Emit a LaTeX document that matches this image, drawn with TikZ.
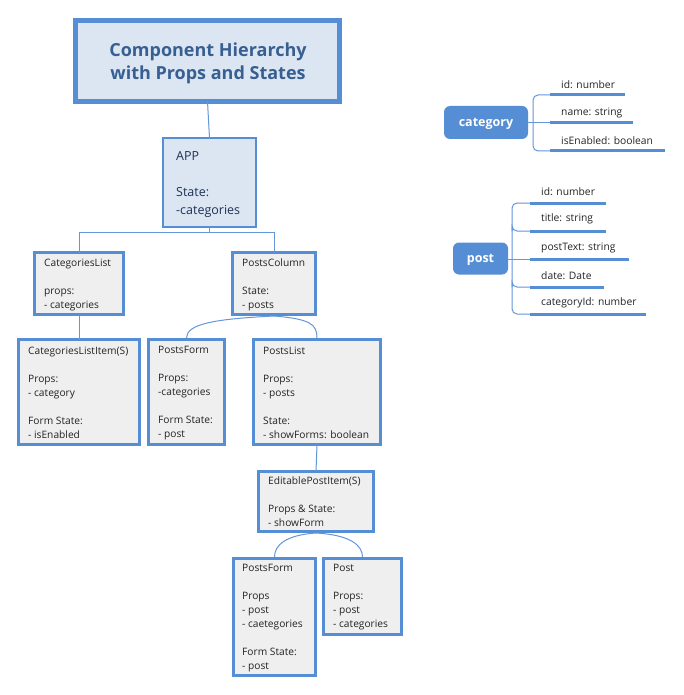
\documentclass[tikz,border=0pt]{standalone}
\usepackage{fontspec}
\setmainfont{Open Sans}
\usetikzlibrary{calc}
\definecolor{bord}{RGB}{85,142,213}
\definecolor{lblue}{RGB}{220,230,242}
\definecolor{lgray}{RGB}{239,239,239}
\definecolor{ttl}{RGB}{55,95,145}
\definecolor{navy}{RGB}{30,50,85}
\definecolor{txtc}{RGB}{35,35,35}
\definecolor{conn}{RGB}{100,150,218}
\begin{document}
\begin{tikzpicture}[x=1pt,y=-1pt,
  gbox/.style={draw=bord,fill=lgray,line width=3pt,anchor=north west,inner sep=0pt,outer sep=0pt},
  gtxt/.style={anchor=north west,inner sep=0pt,align=left,text=txtc,font=\fontsize{10.2}{14}\selectfont},
  mtxt/.style={anchor=west,inner sep=0pt,text=txtc,font=\fontsize{10.3}{12}\selectfont},
  pill/.style={fill=bord,rounded corners=6pt,text=white,font=\bfseries\fontsize{12.5}{15}\selectfont,inner sep=0pt,text depth=0pt},
  conn/.style={draw=conn,line width=1pt},
  uline/.style={draw=bord,line width=3pt}]
\useasboundingbox[fill=white] (0,0) rectangle (683,695);

% ---------- boxes ----------
\node[draw=bord,fill=lblue,line width=5pt,anchor=north west,inner sep=0pt,outer sep=0pt,minimum width=264pt,minimum height=81pt] (title) at (75.5,20.5) {};
\node[draw=bord,fill=lblue,line width=2pt,anchor=north west,inner sep=0pt,outer sep=0pt,minimum width=93pt,minimum height=89pt] (app) at (163,138) {};
\node[gbox,minimum width=89pt,minimum height=62pt] (cl) at (34.5,252.5) {};
\node[gbox,minimum width=83pt,minimum height=62pt] (pc) at (232.5,252.5) {};
\node[gbox,minimum width=121pt,minimum height=105pt] (cli) at (18.5,339.5) {};
\node[gbox,minimum width=76pt,minimum height=105pt] (pf) at (148.5,339.5) {};
\node[gbox,minimum width=127pt,minimum height=105pt] (pl) at (253.5,339.5) {};
\node[gbox,minimum width=115pt,minimum height=60pt] (epi) at (258.5,471.5) {};
\node[gbox,minimum width=82pt,minimum height=117pt] (pf2) at (233.5,558.5) {};
\node[gbox,minimum width=78pt,minimum height=76pt] (post) at (323.5,558.5) {};

% ---------- connectors ----------
\draw[conn] (title.south) -- (app.north);
\draw[conn] (app.south) -- ++(0,5) coordinate (split) -| (cl.north);
\draw[conn] (split) -| (pc.north);
\draw[conn] (cl.south) -- (cli.north);
\draw[conn] ($(pc.south)+(0,1.5)$) .. controls +(-60,3) and +(0,-14) .. ($(pf.north)+(0,-1.5)$);
\draw[conn] ($(pc.south)+(0,1.5)$) .. controls +(36,3) and +(0,-14) .. ($(pl.north)+(0,-1.5)$);
\draw[conn] (pl.south) -- (epi.north);
\draw[conn] ($(epi.south)+(0,1.5)$) .. controls +(-30,2) and +(0,-12) .. ($(pf2.north)+(0,-1.5)$);
\draw[conn] ($(epi.south)+(0,1.5)$) .. controls +(34,2) and +(0,-12) .. ($(post.north)+(0,-1.5)$);

% ---------- texts ----------
\node[text=ttl,font=\bfseries\fontsize{18}{23}\selectfont,align=center,inner sep=0pt] (ttltext) at (208,63.5) {Component Hierarchy\\with Props and States};
\node[anchor=north west,inner sep=0pt,align=left,text=navy,font=\fontsize{12.5}{18}\selectfont] (apptext) at (176,151) {APP\\[18pt]State:\\-categories};
\node[gtxt] (cltext) at (44,258.5) {CategoriesList\\[14pt]props:\\- categories};
\node[gtxt] (pctext) at (242,258.5) {PostsColumn\\[14pt]State:\\- posts};
\node[gtxt] (clitext) at (28,346.5) {CategoriesListItem(S)\\[14pt]Props:\\- category\\[14pt]Form State:\\- isEnabled};
\node[gtxt] (pftext) at (158,346.5) {PostsForm\\[14pt]Props:\\-categories\\[14pt]Form State:\\- post};
\node[gtxt] (pltext) at (263,346.5) {PostsList\\[14pt]Props:\\- posts\\[14pt]State:\\- showForms: boolean};
\node[gtxt] (epitext) at (268,477) {EditablePostItem(S)\\[14pt]Props \& State:\\- showForm};
\node[gtxt] (pf2text) at (242,564) {PostsForm\\[14pt]Props\\- post\\- caetegories\\[14pt]Form State:\\- post};
\node[gtxt] (posttext) at (333,564) {Post\\[14pt]Props:\\- post\\- categories};

% ---------- mind map: category ----------
\node[pill,minimum width=84pt,minimum height=33pt] (cat) at (486,122.5) {category};
\coordinate (ca1) at (550,95);
\coordinate (ca2) at (550,123);
\coordinate (ca3) at (550,151);
\draw[conn,rounded corners=5pt] (ca1) -| (533,123) |- (ca3);
\draw[conn] (cat.east |- ca2) -- (ca2);
\draw[uline] (ca1) -- ++(75,0);
\draw[uline] (ca2) -- ++(83,0);
\draw[uline] (ca3) -- ++(115,0);
\node[mtxt] (cat1) at (561,85) {id: number};
\node[mtxt] (cat2) at (561,113) {name: string};
\node[mtxt] (cat3) at (561,141) {isEnabled: boolean};

% ---------- mind map: post ----------
\node[pill,minimum width=55pt,minimum height=32pt] (pst) at (480.5,258.5) {post};
\coordinate (po1) at (530,203);
\coordinate (po2) at (530,231);
\coordinate (po3) at (530,259);
\coordinate (po4) at (530,287);
\coordinate (po5) at (530,314);
\draw[conn,rounded corners=5pt] (po1) -| (512,259) |- (po5);
\draw[conn,rounded corners=5pt] (512,231) |- (po2);
\draw[conn,rounded corners=5pt] (512,287) |- (po4);
\draw[conn] (pst.east |- po3) -- (po3);
\draw[uline] (po1) -- ++(76,0);
\draw[uline] (po2) -- ++(76,0);
\draw[uline] (po3) -- ++(99,0);
\draw[uline] (po4) -- ++(74,0);
\draw[uline] (po5) -- ++(116,0);
\node[mtxt] (pst1) at (541,192) {id: number};
\node[mtxt] (pst2) at (541,219) {title: string};
\node[mtxt] (pst3) at (541,248) {postText: string};
\node[mtxt] (pst4) at (541,276) {date: Date};
\node[mtxt] (pst5) at (541,303) {categoryId: number};
\end{tikzpicture}
\end{document}
